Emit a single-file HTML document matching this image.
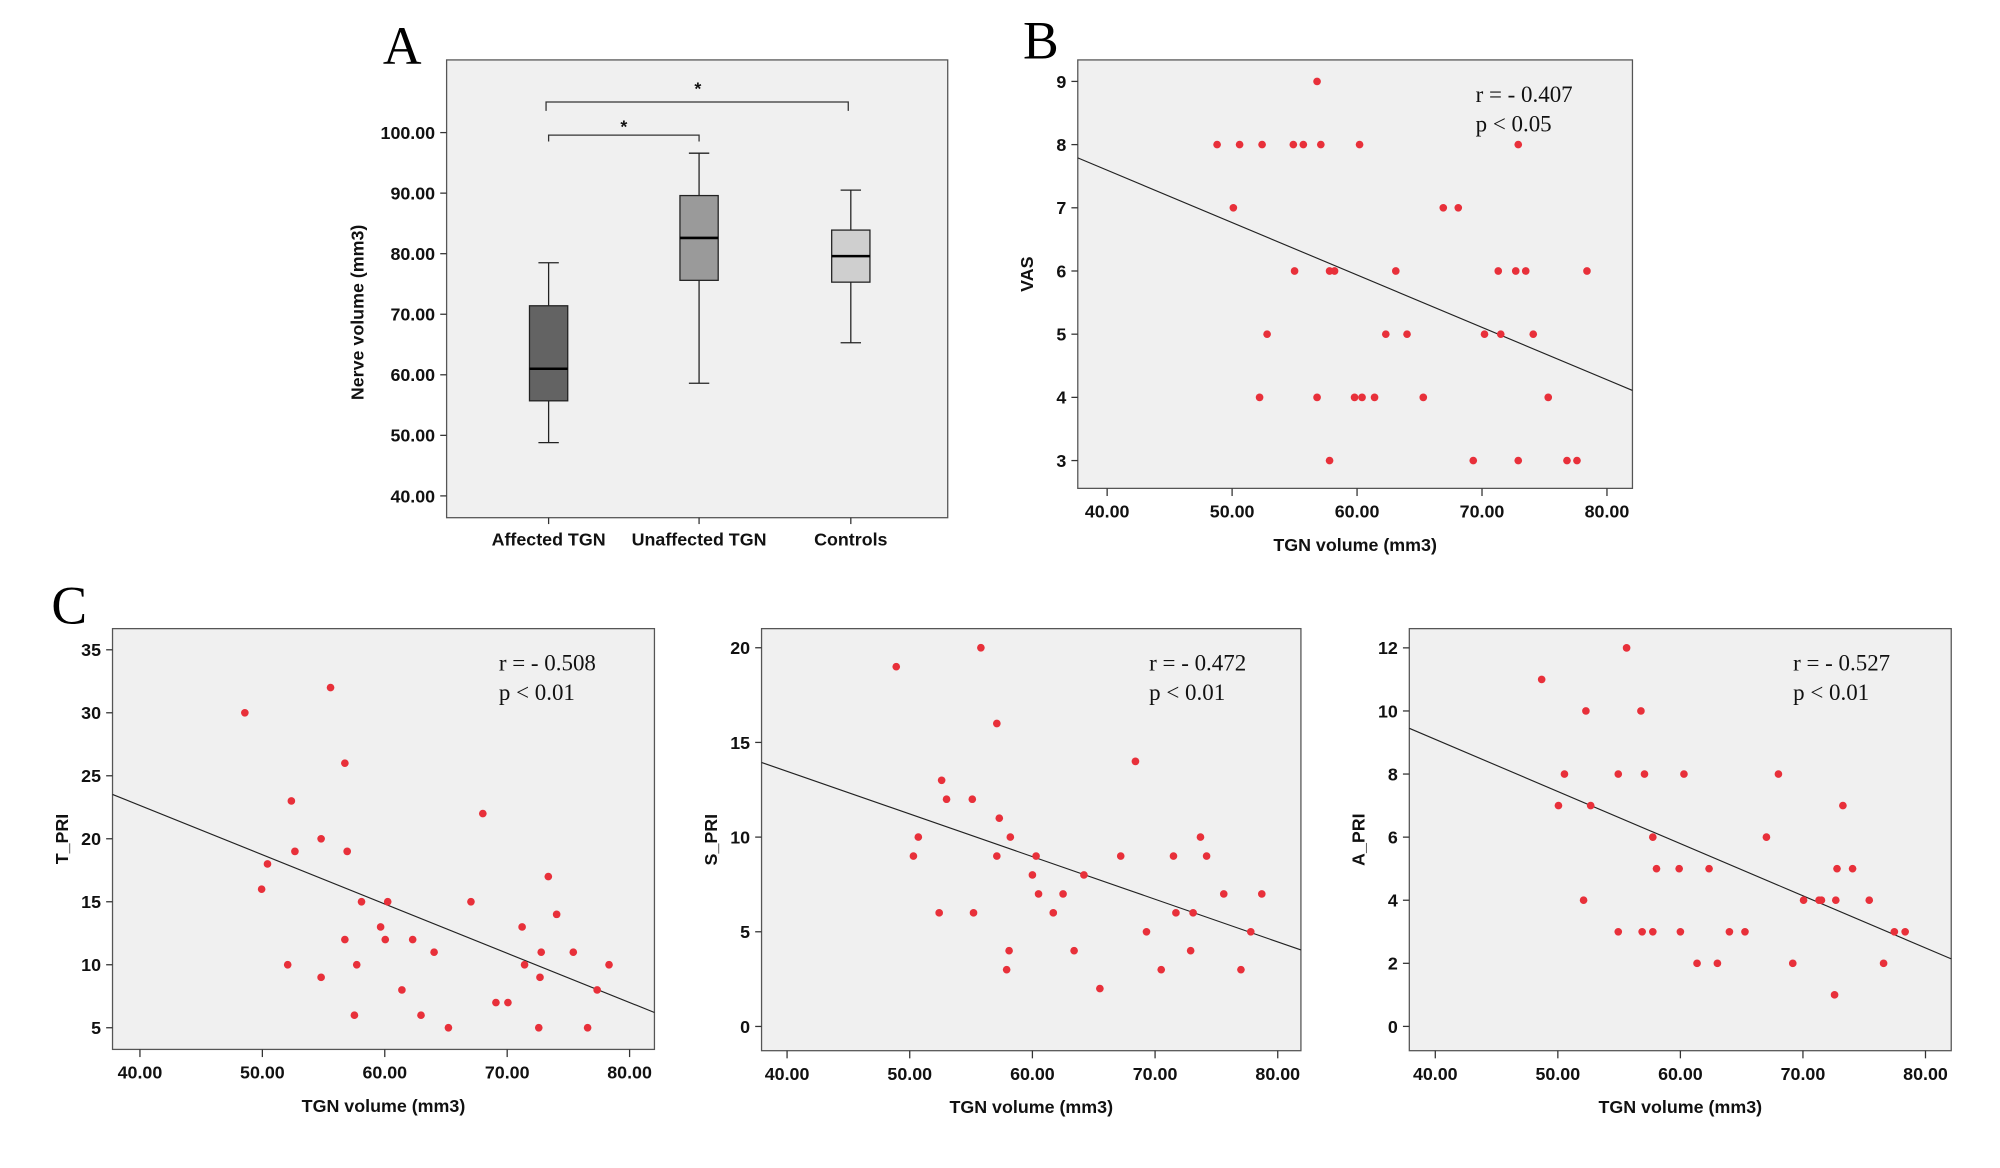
<!DOCTYPE html>
<html><head><meta charset="utf-8"><style>
html,body{margin:0;padding:0;background:#fff}
svg{display:block}
.t{font-family:"Liberation Sans",sans-serif;font-size:14px;font-weight:bold;fill:#111}
.s{font-family:"Liberation Serif",serif;font-size:18px;fill:#111}
.L{font-family:"Liberation Serif",serif;font-size:42px;fill:#000}
</style></head><body>
<svg id="fig" width="2000" height="1168" viewBox="0 0 1568 916" xmlns="http://www.w3.org/2000/svg"></svg>
<script>
// ---- Panel A data ----
const aCats = ["Affected TGN","Unaffected TGN","Controls"];
const aMin = [48.8, 58.6, 65.3];
const aQ1 = [55.7, 75.6, 75.3];
const aMed = [61.0, 82.6, 79.6];
const aQ3 = [71.4, 89.6, 83.9];
const aMax = [78.5, 96.6, 90.5];
const aFill = ["#636363","#9a9a9a","#cfcfcf"];
const aTicks = [40,50,60,70,80,90,100];
// ---- Panel B data ----
const bX = [48.8,50.6,52.4,54.9,55.7,57.1,60.2,72.9,56.8,50.1,66.9,68.1,55.0,57.8,58.2,63.1,71.3,72.7,73.5,78.4,52.8,62.3,64.0,70.2,71.5,74.1,52.2,56.8,59.8,60.4,61.4,65.3,75.3,57.8,69.3,72.9,76.8,77.6];
const bY = [8,8,8,8,8,8,8,8,9,7,7,7,6,6,6,6,6,6,6,6,5,5,5,5,5,5,4,4,4,4,4,4,4,3,3,3,3,3];
const bLine = [7.79, 4.11];
// ---- Panel C1 (T_PRI) ----
const c1X = [48.57,55.57,56.74,52.37,68.01,52.66,56.93,50.42,49.94,54.80,73.36,67.04,58.10,60.24,74.04,59.66,71.22,56.74,60.04,62.28,64.03,72.78,75.40,52.07,57.71,71.42,78.32,54.80,72.68,61.40,77.35,69.08,70.06,57.52,62.96,65.20,72.58,76.57];
const c1Y = [30,32,26,23,22,19,19,18,16,20,17,15,15,15,14,13,13,12,12,12,11,11,11,10,10,10,10,9,9,8,8,7,7,6,6,5,5,5];
const c1Line = [23.52, 6.21];
// ---- Panel C2 (S_PRI) ----
const c2X = [48.9,55.8,57.1,68.4,52.6,53.0,55.1,57.3,50.7,58.2,73.7,50.3,57.1,60.3,67.2,71.5,74.2,60.0,64.2,60.5,62.5,75.6,78.7,52.4,55.2,61.7,71.7,73.1,69.3,77.8,58.1,63.4,72.9,57.9,70.5,77.0,65.5];
const c2Y = [19,20,16,14,13,12,12,11,10,10,10,9,9,9,9,9,9,8,8,7,7,7,7,6,6,6,6,6,5,5,4,4,4,3,3,3,2];
const c2Line = [13.94, 4.04];
// ---- Panel C3 (A_PRI) ----
const c3X = [55.61,48.68,52.29,56.78,50.54,54.93,57.07,60.29,68.00,50.05,52.68,73.26,57.75,67.02,58.05,59.90,62.34,72.78,74.05,52.10,70.05,71.31,71.51,72.68,75.41,54.93,56.88,57.75,60.00,64.00,65.27,77.46,78.34,61.36,63.02,69.17,76.58,72.58];
const c3Y = [12,11,10,10,8,8,8,8,8,7,7,7,6,6,5,5,5,5,5,4,4,4,4,4,4,3,3,3,3,3,3,3,3,2,2,2,2,1];
const c3Line = [9.45, 2.14];
const xTicks = [40,50,60,70,80];

const NS="http://www.w3.org/2000/svg", svg=document.getElementById('fig');
function el(tag,attrs,parent,txt){const e=document.createElementNS(NS,tag);for(const k in attrs)e.setAttribute(k,attrs[k]);if(txt!==undefined)e.textContent=txt;(parent||svg).appendChild(e);return e;}
function lin(d0,d1,r0,r1){return v=>r0+(v-d0)/(d1-d0)*(r1-r0);}

let t;
t=el('text',{x:300,y:50,class:'L'},svg,'A');


t=el('text',{x:802,y:46,class:'L'},svg,'B');


t=el('text',{x:40,y:489,class:'L'},svg,'C');



// ---- Panel A ----
(function(){
  const g=el('g',{});
  
  
  const L=350,R=743,T=47,B=406;
  const y=lin(36.4,112.0,B,T);
  el('rect',{x:L,y:T,width:R-L,height:B-T,fill:'#f0f0f0',stroke:'#555','stroke-width':1},g);
  aTicks.forEach(v=>{
    el('line',{x1:L-5,x2:L,y1:y(v),y2:y(v),stroke:'#333'},g);
    const tt=el('text',{x:L-9,y:y(v)+5,'text-anchor':'end',class:'t'},g,v.toFixed(2));
    
    
  });
  const cx=[430,548,667], w=30;
  aCats.forEach((c,i)=>{
    const x=cx[i];
    el('line',{x1:x,x2:x,y1:y(aMax[i]),y2:y(aQ3[i]),stroke:'#222'},g);
    el('line',{x1:x,x2:x,y1:y(aQ1[i]),y2:y(aMin[i]),stroke:'#222'},g);
    el('line',{x1:x-8,x2:x+8,y1:y(aMax[i]),y2:y(aMax[i]),stroke:'#222'},g);
    el('line',{x1:x-8,x2:x+8,y1:y(aMin[i]),y2:y(aMin[i]),stroke:'#222'},g);
    const b=el('rect',{x:x-w/2,y:y(aQ3[i]),width:w,height:y(aQ1[i])-y(aQ3[i]),fill:aFill[i],stroke:'#222'},g);
    
    
    el('line',{x1:x-w/2,x2:x+w/2,y1:y(aMed[i]),y2:y(aMed[i]),stroke:'#000','stroke-width':2},g);
    el('line',{x1:x,x2:x,y1:B,y2:B+5,stroke:'#333'},g);
    const ct=el('text',{x:x,y:B+22,'text-anchor':'middle',class:'t'},g,c);
    
    
  });
  el('path',{d:'M430,111 V106 H548 V111',fill:'none',stroke:'#333'},g);
  el('text',{x:489,y:104,'text-anchor':'middle',class:'t'},g,'*');
  el('path',{d:'M428,87 V80 H665 V87',fill:'none',stroke:'#333'},g);
  el('text',{x:547,y:74,'text-anchor':'middle',class:'t'},g,'*');
  const yt=el('text',{transform:'translate(285,245) rotate(-90)','text-anchor':'middle',class:'t'},g,'Nerve volume (mm3)');
  
  
})();

function scatter(name,L,R,T,B,xd,yd,xTk,yTk,xs,ys,line,ylab,r,p,txtX){
  const g=el('g',{});
  
  
  const x=lin(xd[0],xd[1],L,R), y=lin(yd[0],yd[1],B,T);
  el('rect',{x:L,y:T,width:R-L,height:B-T,fill:'#f0f0f0',stroke:'#555'},g);
  xTk.forEach(v=>{
    el('line',{x1:x(v),x2:x(v),y1:B,y2:B+6,stroke:'#333'},g);
    const tt=el('text',{x:x(v),y:B+23,'text-anchor':'middle',class:'t'},g,v.toFixed(2));
    
    
  });
  yTk.forEach(v=>{
    el('line',{x1:L-5,x2:L,y1:y(v),y2:y(v),stroke:'#333'},g);
    const tt=el('text',{x:L-9,y:y(v)+5,'text-anchor':'end',class:'t'},g,String(v));
    
    
  });
  const ln=el('line',{x1:L,x2:R,y1:y(line[0]),y2:y(line[1]),stroke:'#222','stroke-width':0.9},g);
  
  
  xs.forEach((v,i)=>{
    const c=el('circle',{cx:x(v),cy:y(ys[i]),r:3,fill:'#e8303a'},g);
    
    
  });
  const xt=el('text',{x:(L+R)/2,y:B+49,'text-anchor':'middle',class:'t'},g,'TGN volume (mm3)');
  
  
  const yt=el('text',{transform:`translate(${L-35},${(T+B)/2}) rotate(-90)`,'text-anchor':'middle',class:'t'},g,ylab);
  
  
  const rt=el('text',{x:txtX,y:T+33,class:'s'},g,r);
  
  
  const pt=el('text',{x:txtX,y:T+56,class:'s'},g,p);
  
  
}
scatter('scatter-vas',845,1280,47,383,[37.65,82.04],[2.56,9.34],xTicks,[3,4,5,6,7,8,9],bX,bY,bLine,'VAS','r = - 0.407','p < 0.05',1157);
scatter('scatter-t-pri',88,513,493,823,[37.76,82.03],[3.28,36.68],xTicks,[5,10,15,20,25,30,35],c1X,c1Y,c1Line,'T_PRI','r = - 0.508','p < 0.01',391);
scatter('scatter-s-pri',597,1020,493,824,[37.92,81.89],[-1.28,21.01],xTicks,[0,5,10,15,20],c2X,c2Y,c2Line,'S_PRI','r = - 0.472','p < 0.01',901);
scatter('scatter-a-pri',1105,1530,493,824,[37.88,82.1],[-0.77,12.61],xTicks,[0,2,4,6,8,10,12],c3X,c3Y,c3Line,'A_PRI','r = - 0.527','p < 0.01',1406);
</script>
</body></html>
